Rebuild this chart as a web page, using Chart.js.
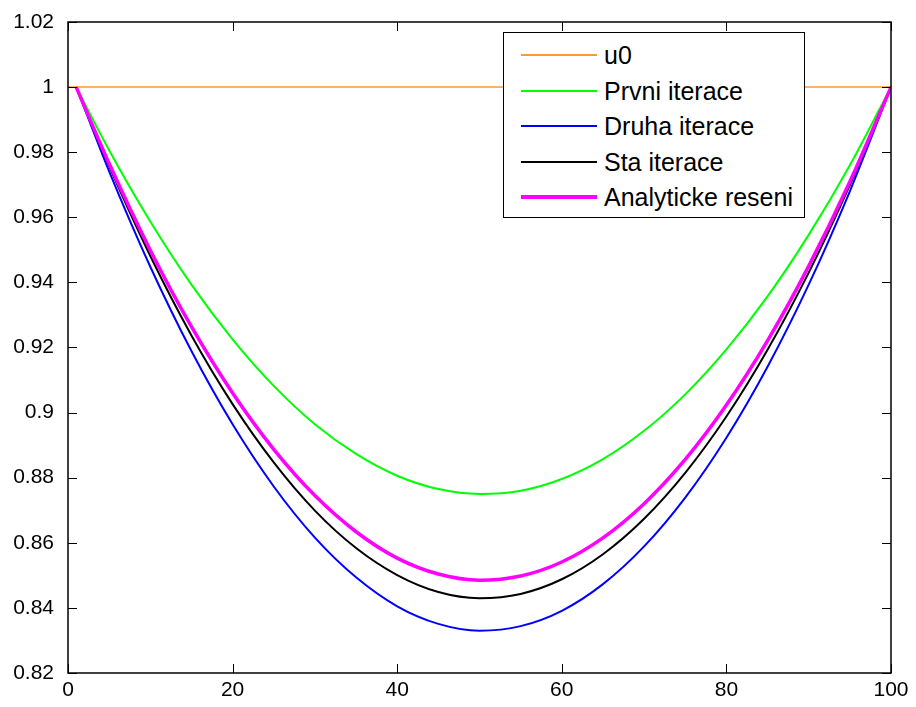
<!DOCTYPE html>
<html>
<head>
<meta charset="utf-8">
<script src="https://cdn.jsdelivr.net/npm/chart.js@4/dist/chart.umd.min.js"></script>
<style>
  body { margin: 0; background: #fff; }
  #wrap { position: relative; width: 916px; height: 707px; }
  #legend {
    position: absolute; left: 503px; top: 32px; width: 300px; height: 184px;
    border: 1px solid #000; background: #fff;
    font-family: "Liberation Sans", Arial, sans-serif; font-size: 25px; color: #000;
  }
  .row { position: absolute; left: 0; width: 100%; height: 30px; line-height: 30px; white-space: nowrap; }
  .row .swatch { position: absolute; left: 17px; width: 76px; }
  .row .lbl { position: absolute; left: 100px; top: 0; }
</style>
</head>
<body>
<div id="wrap">
  <canvas id="c" width="916" height="707"></canvas>
  <div id="legend"></div>
</div>
<script>
// x positions of the sampled points
const xs = [1, 5, 10, 15, 20, 25, 30, 35, 40, 45, 50, 55, 60, 65, 70, 75, 80, 85, 90, 95, 100];

// initial guess (constant)
const u0X = [0, 100];
const u0Y = [1, 1];

// first iteration
const prvni = [1, 0.9806, 0.9587, 0.9393, 0.9225, 0.9082, 0.8964, 0.8873, 0.8806, 0.8765, 0.8750,
               0.8760, 0.8796, 0.8857, 0.8944, 0.9056, 0.9194, 0.9357, 0.9546, 0.9760, 1];
// second iteration
const druha = [1, 0.9741, 0.9448, 0.9189, 0.8964, 0.8773, 0.8616, 0.8494, 0.8405, 0.8351, 0.8330,
               0.8344, 0.8391, 0.8473, 0.8589, 0.8739, 0.8923, 0.9141, 0.9393, 0.9680, 1];
// hundredth iteration
const sta = [1, 0.9757, 0.9481, 0.9237, 0.9026, 0.8847, 0.8699, 0.8584, 0.8501, 0.8449, 0.8430,
             0.8443, 0.8488, 0.8565, 0.8674, 0.8815, 0.8988, 0.9193, 0.9430, 0.9699, 1];
// analytic solution
const analyticke = [1, 0.9765, 0.9499, 0.9264, 0.9060, 0.8887, 0.8745, 0.8634, 0.8553, 0.8504, 0.8485,
                    0.8498, 0.8541, 0.8615, 0.8720, 0.8856, 0.9023, 0.9221, 0.9450, 0.9709, 1];

const xTicks = [0, 20, 40, 60, 80, 100];
const yTicks = [0.82, 0.84, 0.86, 0.88, 0.9, 0.92, 0.94, 0.96, 0.98, 1, 1.02];

const FONT = '"Liberation Sans", Arial, sans-serif';

function pts(x, y) {
    return x.map((v, i) => ({ x: v, y: y[i] }));
}

const datasets = [
    { label: 'u0', data: pts(u0X, u0Y), borderColor: '#ff9933', borderWidth: 1.5, order: 5 },
    { label: 'Prvni iterace', data: pts(xs, prvni), borderColor: '#00ff00', borderWidth: 2, order: 4 },
    { label: 'Druha iterace', data: pts(xs, druha), borderColor: '#0000ff', borderWidth: 2, order: 3 },
    { label: 'Sta iterace', data: pts(xs, sta), borderColor: '#000000', borderWidth: 2, order: 2 },
    { label: 'Analyticke reseni', data: pts(xs, analyticke), borderColor: '#ff00ff', borderWidth: 3.5, order: 1 }
];
datasets.forEach(d => {
    d.pointRadius = 0;
    d.fill = false;
    d.cubicInterpolationMode = 'monotone';
});

// box around the plot with inward ticks on all four sides
const boxPlugin = {
    id: 'matlabBox',
    afterDraw(chart) {
        const { ctx, chartArea: a, scales } = chart;
        const len = 9;
        ctx.save();
        ctx.strokeStyle = '#000';
        ctx.lineWidth = 1;
        ctx.beginPath();
        scales.x.ticks.forEach(t => {
            const px = Math.round(scales.x.getPixelForValue(t.value)) + 0.5;
            ctx.moveTo(px, a.bottom); ctx.lineTo(px, a.bottom - len);
            ctx.moveTo(px, a.top); ctx.lineTo(px, a.top + len);
        });
        scales.y.ticks.forEach(t => {
            const py = Math.round(scales.y.getPixelForValue(t.value)) + 0.5;
            ctx.moveTo(a.left, py); ctx.lineTo(a.left + len, py);
            ctx.moveTo(a.right, py); ctx.lineTo(a.right - len, py);
        });
        ctx.stroke();
        ctx.lineWidth = 1.5;
        ctx.strokeRect(a.left, a.top, a.right - a.left, a.bottom - a.top);
        ctx.restore();
    }
};

new Chart(document.getElementById('c'), {
    type: 'line',
    data: { datasets: datasets },
    plugins: [boxPlugin],
    options: {
        responsive: false,
        animation: false,
        layout: { padding: { left: 0, right: 25, top: 22, bottom: 0 } },
        plugins: { legend: { display: false }, tooltip: { enabled: false } },
        scales: {
            x: {
                type: 'linear', min: 0, max: 100,
                afterBuildTicks: s => { s.ticks = xTicks.map(v => ({ value: v })); },
                afterFit: s => { s.height = 34; s.paddingLeft = 0; s.paddingRight = 0; },
                grid: { display: false, drawTicks: false },
                border: { display: false },
                ticks: { color: '#000', font: { family: FONT, size: 21 }, padding: 5, maxRotation: 0 }
            },
            y: {
                type: 'linear', min: 0.82, max: 1.02,
                afterBuildTicks: s => { s.ticks = yTicks.map(v => ({ value: v })); },
                afterFit: s => { s.width = 68; s.paddingTop = 0; s.paddingBottom = 0; },
                grid: { display: false, drawTicks: false },
                border: { display: false },
                ticks: {
                    color: '#000', font: { family: FONT, size: 21 }, padding: 14,
                    callback: v => String(+v.toFixed(2))
                }
            }
        }
    }
});

// legend box
const legend = document.getElementById('legend');
datasets.forEach((d, i) => {
    const row = document.createElement('div');
    row.className = 'row';
    row.style.top = (7 + i * 35.5) + 'px';
    const w = Math.max(1, Math.round(d.borderWidth));
    row.innerHTML = '<div class="swatch" style="height:' + w + 'px;top:' + (15 - w / 2) + 'px;background:' +
        d.borderColor + '"></div><span class="lbl">' + d.label + '</span>';
    legend.appendChild(row);
});
</script>
</body>
</html>
